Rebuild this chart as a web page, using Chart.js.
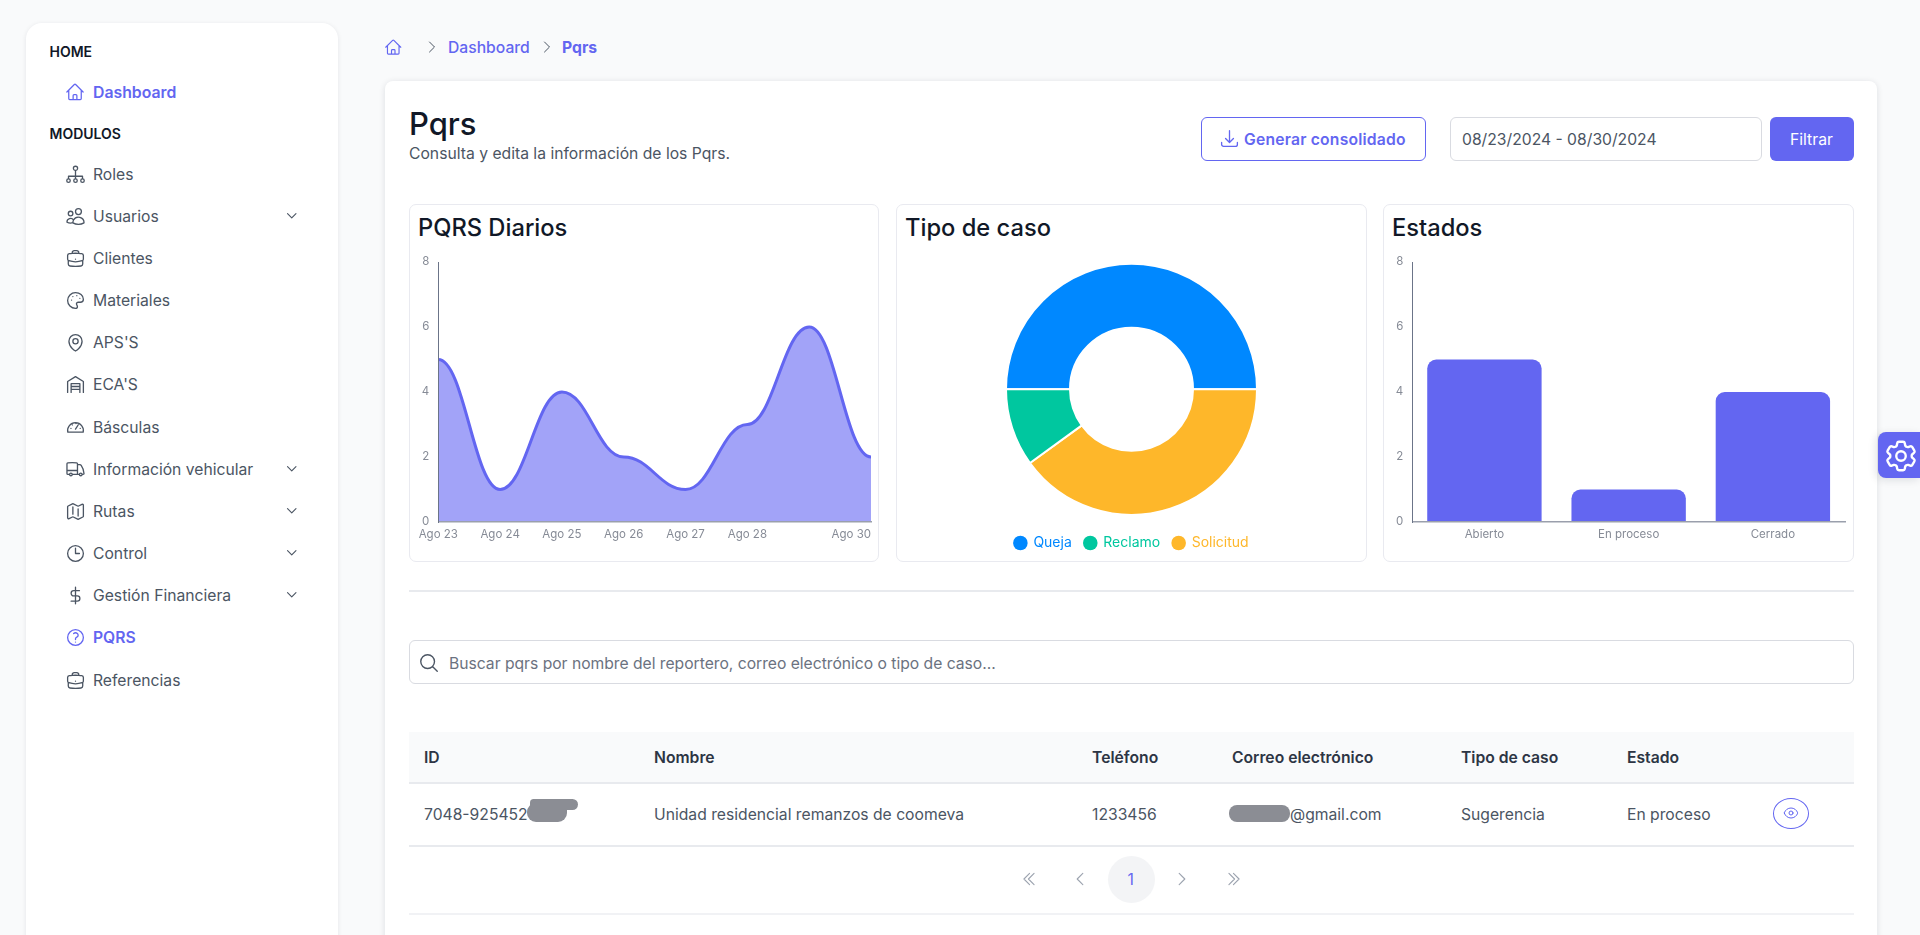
<!DOCTYPE html>
<html lang="es">
<head>
<meta charset="utf-8">
<title>Pqrs</title>
<script src="https://cdn.jsdelivr.net/npm/chart.js@4/dist/chart.umd.min.js"></script>
<style>
*{box-sizing:border-box}
html,body{margin:0;width:1920px;height:935px;overflow:hidden;background:#f9fafb;font-family:Inter,"Noto Sans",sans-serif;color:#4b5563}
.a{position:absolute;white-space:nowrap}
.t{position:absolute;white-space:nowrap;transform:translateY(calc(-50% + 1px));line-height:1.2}
svg.i{position:absolute;fill:none;stroke:currentColor;stroke-width:1.5;stroke-linecap:round;stroke-linejoin:round}
#side{left:26px;top:23px;width:312px;height:1000px;background:#fff;border-radius:16px;box-shadow:0 1px 5px rgba(17,24,39,.09)}
#main{left:385px;top:81px;width:1492px;height:1000px;background:#fff;border-radius:8px;box-shadow:0 1px 6px rgba(17,24,39,.12)}
.card{position:absolute;top:204px;height:358px;background:#fff;border:1.5px solid #e9eaf0;border-radius:7px}
.ct{font-size:23.7px;font-weight:500;color:#111827;top:227px}
canvas{position:absolute;display:block}
.hd{font-size:15.7px;font-weight:600;color:#2d3544;top:757px}
.rw{font-size:15.7px;color:#4b5563;top:814px}
.line{position:absolute;height:1.5px;background:#e8eaee}
</style>
</head>
<body>
<div id="root"></div>
<script>
// ---- Chart data ----
const dailyLabels = ['Ago 23','Ago 24','Ago 25','Ago 26','Ago 27','Ago 28','','Ago 30'];
const dailyValues = [5,1,4,2,1,3,6,2];
const caseLabels = ['Queja','Solicitud','Reclamo'];
const caseValues = [5,4,1];
const caseColors = ['#0088ff','#feb72a','#00c79f'];
const caseLegendOrder = ['Queja','Reclamo','Solicitud'];
const stateLabels = ['Abierto','En proceso','Cerrado'];
const stateValues = [5,1,4];
const yTicks = [0,2,4,6,8];

// ---- Icons ----
const P = {
 home:'M2.25 12l8.954-8.955c.44-.439 1.152-.439 1.591 0L21.75 12M4.5 9.75v10.125c0 .621.504 1.125 1.125 1.125H9.75v-4.875c0-.621.504-1.125 1.125-1.125h2.25c.621 0 1.125.504 1.125 1.125V21h4.125c.621 0 1.125-.504 1.125-1.125V9.75M8.25 21h8.25',
 down:'M19.5 8.25l-7.5 7.5-7.5-7.5',
 right:'M8.25 4.5l7.5 7.5-7.5 7.5',
 left:'M15.75 19.5L8.25 12l7.5-7.5',
 dr:'M5.25 4.5l7.5 7.5-7.5 7.5M11.25 4.5l7.5 7.5-7.5 7.5',
 dl:'M18.75 19.5L11.25 12l7.5-7.5M12.75 19.5L5.25 12l7.5-7.5',
 tray:'M3 16.5v2.25A2.25 2.25 0 005.25 21h13.5A2.25 2.25 0 0021 18.75V16.5M16.5 12L12 16.5m0 0L7.5 12m4.5 4.5V3',
 search:'M21 21l-5.197-5.197m0 0A7.5 7.5 0 105.196 5.196a7.5 7.5 0 0010.607 10.607z',
 eye:'M2.036 12.322a1.012 1.012 0 010-.639C3.423 7.51 7.36 4.5 12 4.5c4.638 0 8.573 3.007 9.963 7.178.07.207.07.431 0 .639C20.577 16.49 16.64 19.5 12 19.5c-4.638 0-8.573-3.007-9.963-7.178zM15 12a3 3 0 11-6 0 3 3 0 016 0z',
 cog:'M9.594 3.94c.09-.542.56-.94 1.11-.94h2.593c.55 0 1.02.398 1.11.94l.213 1.281c.063.374.313.686.645.87.074.04.147.083.22.127.324.196.72.257 1.075.124l1.217-.456a1.125 1.125 0 011.37.49l1.296 2.247a1.125 1.125 0 01-.26 1.431l-1.003.827c-.293.24-.438.613-.431.992a6.759 6.759 0 010 .255c-.007.378.138.75.43.99l1.005.828c.424.35.534.954.26 1.43l-1.298 2.247a1.125 1.125 0 01-1.369.491l-1.217-.456c-.355-.133-.75-.072-1.076.124a6.57 6.57 0 01-.22.128c-.331.183-.581.495-.644.869l-.213 1.28c-.09.543-.56.941-1.11.941h-2.594c-.55 0-1.02-.398-1.11-.94l-.213-1.281c-.062-.374-.312-.686-.644-.87a6.52 6.52 0 01-.22-.127c-.325-.196-.72-.257-1.076-.124l-1.217.456a1.125 1.125 0 01-1.369-.49l-1.297-2.247a1.125 1.125 0 01.26-1.431l1.004-.827c.292-.24.437-.613.43-.992a6.932 6.932 0 010-.255c.007-.378-.138-.75-.43-.99l-1.004-.828a1.125 1.125 0 01-.26-1.43l1.297-2.247a1.125 1.125 0 011.37-.491l1.216.456c.356.133.751.072 1.076-.124.072-.044.146-.087.22-.128.332-.183.582-.495.644-.869l.214-1.281zM15 12a3 3 0 11-6 0 3 3 0 016 0z',
 pin:'M15 10.5a3 3 0 11-6 0 3 3 0 016 0zM19.5 10.5c0 7.142-7.5 11.25-7.5 11.25S4.5 17.642 4.5 10.5a7.5 7.5 0 1115 0z',
 clock:'M12 6v6h4.5m4.5 0a9 9 0 11-18 0 9 9 0 0118 0z',
 help:'M9.879 7.519c1.171-1.025 3.071-1.025 4.242 0 1.172 1.025 1.172 2.687 0 3.712-.203.179-.43.326-.67.442-.745.361-1.45.999-1.45 1.827v.75M21 12a9 9 0 11-18 0 9 9 0 0118 0zm-9 5.25h.008v.008H12v-.008z',
 case:'M20.25 14.15v4.25c0 1.094-.787 2.036-1.872 2.18-2.087.277-4.216.42-6.378.42s-4.291-.143-6.378-.42c-1.085-.144-1.872-1.086-1.872-2.18v-4.25m16.5 0a2.18 2.18 0 00.75-1.661V8.706c0-1.081-.768-2.015-1.837-2.175a48.114 48.114 0 00-3.413-.387m4.5 8.006c-.194.165-.42.295-.673.38A23.978 23.978 0 0112 15.75c-2.648 0-5.195-.429-7.577-1.22a2.016 2.016 0 01-.673-.38m0 0A2.18 2.18 0 013 12.489V8.706c0-1.081.768-2.015 1.837-2.175a48.111 48.111 0 013.413-.387m7.5 0V5.25A2.25 2.25 0 0013.5 3h-3a2.25 2.25 0 00-2.25 2.25v.894m7.5 0a48.667 48.667 0 00-7.5 0M12 12.75h.008v.008H12v-.008z',
 map:'M9 6.75V15m6-6v8.25m.503 3.498l4.875-2.437c.381-.19.622-.58.622-1.006V4.82c0-.836-.88-1.38-1.628-1.006l-3.869 1.934c-.317.159-.69.159-1.006 0L9.503 3.252a1.125 1.125 0 00-1.006 0L3.622 5.689C3.24 5.88 3 6.27 3 6.695V19.18c0 .836.88 1.38 1.628 1.006l3.869-1.934c.317-.159.69-.159 1.006 0l4.994 2.497c.317.158.69.158 1.006 0z',
 truck:'M8.25 18.75a1.5 1.5 0 01-3 0m3 0a1.5 1.5 0 00-3 0m3 0h6m-9 0H3.375a1.125 1.125 0 01-1.125-1.125V14.25m17.25 4.5a1.5 1.5 0 01-3 0m3 0a1.5 1.5 0 00-3 0m3 0h1.125c.621 0 1.129-.504 1.09-1.124a17.902 17.902 0 00-3.213-9.193 2.056 2.056 0 00-1.58-.86H14.25M16.5 18.75h-2.25m0-11.177v-.958c0-.568-.422-1.048-.987-1.106a48.554 48.554 0 00-10.026 0 1.106 1.106 0 00-.987 1.106v7.635m12-6.677v6.677m0 4.5v-4.5m0 0h-12',
 dollar:'M12 2.5v19M16.5 6.5H10a3 3 0 000 6h4a3 3 0 010 6H7',
 users:'M15 19.128a9.38 9.38 0 002.625.372 9.337 9.337 0 004.121-.952 4.125 4.125 0 00-7.533-2.493M15 19.128v-.003c0-1.113-.285-2.16-.786-3.07M15 19.128v.106A12.318 12.318 0 018.624 21c-2.331 0-4.512-.645-6.374-1.766l-.001-.109a6.375 6.375 0 0111.964-3.07M12 6.375a3.375 3.375 0 11-6.75 0 3.375 3.375 0 016.75 0zm8.25 2.25a2.625 2.625 0 11-5.25 0 2.625 2.625 0 015.25 0z',
 roles:'M14.4 5a2.4 2.4 0 11-4.8 0 2.4 2.4 0 014.8 0zM6 19a2 2 0 11-4 0 2 2 0 014 0zM14 19a2 2 0 11-4 0 2 2 0 014 0zM22 19a2 2 0 11-4 0 2 2 0 014 0zM12 7.4V17M4 17v-3h16v3',
 palette:'M12 3a9 9 0 100 18c1.5 0 2.2-1 2.2-2 0-1.5-1.1-2-1.1-3.2 0-1 .8-1.8 2-1.8h2.4c2 0 3.5-1.3 3.5-3.5C21 6 17 3 12 3zM7.5 11.5h.01M9 7.5h.01M13.5 6.5h.01M17 9.5h.01',
 garage:'M3 21V8.5l9-5.5 9 5.5V21M7 21V11h10v10M7 14.3h10M7 17.6h10',
 gauge:'M3.2 18.5a9 9 0 1117.6 0zM12 15l3.2-5M6.8 14.2h.01M8.5 10.2h.01M12.5 8.6h.01M17.4 14.2h.01'
};
const icon=(n,x,y,s,c,extra='')=>`<svg class="i" viewBox="0 0 24 24" style="left:${x-s/2}px;top:${y-s/2}px;width:${s}px;height:${s}px;color:${c};${extra}"><path d="${P[n]}"/></svg>`;
const text=(s,x,y,st,cl='t')=>`<div class="${cl}" style="left:${x}px;top:${y}px;${st}">${s}</div>`;

// ---- Page ----
const A='#6366f1';
const nav=[['Roles','roles',0],['Usuarios','users',1],['Clientes','case',0],['Materiales','palette',0],["APS'S",'pin',0],["ECA'S",'garage',0],['Básculas','gauge',0],['Información vehicular','truck',1],['Rutas','map',1],['Control','clock',1],['Gestión Financiera','dollar',1],['PQRS','help',0],['Referencias','case',0]];
const navY=[174,216,258,300,342,384,426.5,468.5,511,553,595,637,680];
let h='<div class="a" id="side"></div><div class="a" id="main"></div>';
h+=text('HOME',49.5,51,'font-size:14px;font-weight:600;color:#111827');
h+=icon('home',75,92,20,A)+text('Dashboard',93,92,`font-size:15.8px;font-weight:600;color:${A}`);
h+=text('MODULOS',49.5,133,'font-size:14px;font-weight:600;color:#111827');
nav.forEach((n,i)=>{const act=n[0]==='PQRS',c=act?A:'#4b5563';
 h+=icon(n[1],75,navY[i],21,c,n[1]==='users'?'transform:scaleX(-1);':'');
 h+=text(n[0],93,navY[i],`font-size:15.7px;color:${c};${act?'font-weight:600;':''}`);
 if(n[2])h+=icon('down',292,navY[i],13.5,'#4b5563','stroke-width:2;');});
// breadcrumb
h+=icon('home',393,47,18.5,A)+icon('right',432,46.5,16,'#4b5563')+text('Dashboard',448,47,`font-size:15.7px;font-weight:500;color:${A}`)+icon('right',547,46.5,16,'#4b5563')+text('Pqrs',562,47,`font-size:15.7px;font-weight:700;color:${A}`);
// heading
h+=text('Pqrs',409,123,'font-size:31px;font-weight:500;color:#111827');
h+=text('Consulta y edita la información de los Pqrs.',409,153,'font-size:15.7px;color:#4b5563');
// toolbar
h+=`<div class="a" style="left:1200.5px;top:117px;width:225px;height:44px;border:1.5px solid ${A};border-radius:6px;background:#fff"></div>`;
h+=icon('tray',1229,138,21,A)+text('Generar consolidado',1244,139,`font-size:15.7px;font-weight:600;color:${A};letter-spacing:.2px`);
h+='<div class="a" style="left:1449.5px;top:117px;width:312px;height:44px;border:1.5px solid #d9dbe1;border-radius:6px;background:#fff"></div>';
h+=text('08/23/2024 - 08/30/2024',1462,139,'font-size:15.7px;color:#4b5563');
h+=`<div class="a" style="left:1770px;top:117px;width:84px;height:44px;background:${A};border-radius:6px"></div>`;
h+=text('Filtrar',1790,139,'font-size:15.7px;color:#fff');
// cards
h+='<div class="card" style="left:409px;width:470px"></div><div class="card" style="left:896px;width:471px"></div><div class="card" style="left:1383px;width:471px"></div>';
h+=text('PQRS Diarios',418,227,'',"t ct")+text('Tipo de caso',905,227,'',"t ct")+text('Estados',1392,227,'',"t ct");
h+='<canvas id="c1" style="left:410px;top:240px;width:468px;height:310px"></canvas>';
h+='<canvas id="c2" style="left:897px;top:255px;width:469px;height:305px"></canvas>';
h+='<canvas id="c3" style="left:1384px;top:240px;width:469px;height:310px"></canvas>';
h+='<div class="line" style="left:409px;top:590px;width:1445px"></div>';
// search
h+='<div class="a" style="left:409px;top:640px;width:1445px;height:44px;border:1.5px solid #d9dbe1;border-radius:6px;background:#fff"></div>';
h+=icon('search',428.5,662.5,22,'#4b5563');
h+=text('Buscar pqrs por nombre del reportero, correo electrónico o tipo de caso...',449,663,'font-size:15.7px;color:#6b7280;letter-spacing:-.02px');
// table
h+='<div class="a" style="left:409px;top:732px;width:1445px;height:50px;background:#f9fafb"></div><div class="line" style="left:409px;top:782px;width:1445px"></div><div class="line" style="left:409px;top:845px;width:1445px"></div><div class="line" style="left:409px;top:913px;width:1445px;background:#f1f2f5"></div>';
[['ID',424],['Nombre',654],['Teléfono',1092],['Correo electrónico',1232],['Tipo de caso',1461],['Estado',1627]].forEach(c=>h+=text(c[0],c[1],757,'',"t hd"));
[['7048-925452',424],['Unidad residencial remanzos de coomeva',654],['1233456',1092],['@gmail.com',1290],['Sugerencia',1461],['En proceso',1627]].forEach(c=>h+=text(c[0],c[1],814,'',"t rw"));
h+='<div class="a" style="left:527px;top:803px;width:40px;height:19px;background:#8b8d94;border-radius:9px 3px 9px 9px"></div><div class="a" style="left:530px;top:799px;width:48px;height:11px;background:#8b8d94;border-radius:4px 6px 6px 2px"></div>';
h+='<div class="a" style="left:1229px;top:805px;width:61px;height:17px;background:#8b8d94;border-radius:8px"></div>';
h+=`<div class="a" style="left:1773px;top:798px;width:36px;height:31px;border:1.2px solid ${A};border-radius:50%"></div>`+icon('eye',1791,813,16,A);
// pagination
h+=icon('dl',1029,879,18,'#9ca3af')+icon('left',1080,879,18,'#9ca3af');
h+='<div class="a" style="left:1108px;top:856px;width:47px;height:47px;border-radius:50%;background:#f3f4f6"></div>';
h+=text('1',1127.5,879,`font-size:15.7px;color:${A}`);
h+=icon('right',1182,879,18,'#9ca3af')+icon('dr',1233.5,879,18,'#9ca3af');
// settings tab
h+=`<div class="a" style="left:1878px;top:432px;width:42px;height:46px;background:${A};border-radius:8px 0 0 8px;box-shadow:-2px 2px 8px rgba(17,24,39,.12)"></div>`+icon('cog',1901,456,38,'#fff');
document.getElementById('root').innerHTML=h;

// ---- Charts ----
Chart.defaults.font.family='Inter, "Noto Sans", sans-serif';
Chart.defaults.animation=false;
const tickColor='#868b96';
const yScale={min:0,max:8,afterBuildTicks:s=>{s.ticks=yTicks.map(v=>({value:v}));},
  afterFit:s=>{s.width=28.3},
  grid:{display:false,drawTicks:false},
  border:{display:true,color:'#6b7488',width:1,z:1},
  ticks:{color:tickColor,padding:9,font:{size:11.5}}};
const xBase={afterFit:s=>{s.height=28;s.paddingLeft=0;s.paddingRight=0;},grid:{display:false,drawTicks:false},
  border:{display:true,color:'#9a9fac',width:1.5,z:1},
  ticks:{color:tickColor,padding:6,font:{size:11.5},autoSkip:false,maxRotation:0,minRotation:0}};

// Flat-tangent spline (horizontal handles at every point) and right-aligned last tick label.
const flatSpline={id:'flatSpline',
  afterDatasetsUpdate(chart){
    const m=chart.getDatasetMeta(0),pts=m.data;
    pts.forEach((p,i)=>{
      const prev=pts[i-1],next=pts[i+1];
      const k=.42;
      p.cp1x=prev?p.x-(p.x-prev.x)*k:p.x; p.cp1y=p.y;
      p.cp2x=next?p.x+(next.x-p.x)*k:p.x; p.cp2y=p.y;
    });
    m.dataset._pointsUpdated=true;
  },
  beforeDatasetsDraw(chart){chart.getDatasetMeta(0).dataset._pointsUpdated=true;},
  beforeDraw(chart){
    const items=chart.scales.x.getLabelItems();
    const last=items[items.length-1];
    if(last) last.options.textAlign='right';
  }};

new Chart(document.getElementById('c1'),{type:'line',
  data:{labels:dailyLabels,datasets:[{label:'PQRS Diarios',data:dailyValues,borderColor:A,borderWidth:3,backgroundColor:'#a2a3f8',fill:'origin',tension:.4,pointRadius:0}]},
  options:{responsive:false,maintainAspectRatio:false,
    layout:{autoPadding:false,padding:{top:22,right:7,left:0,bottom:0}},
    plugins:{legend:{display:false},tooltip:{enabled:false}},
    scales:{x:{...xBase,offset:false},y:yScale}},
  plugins:[flatSpline]});

new Chart(document.getElementById('c2'),{type:'doughnut',
  data:{labels:caseLabels,datasets:[{data:caseValues,backgroundColor:caseColors,borderColor:'#fff',borderWidth:2,radius:125.5,cutout:'49%',rotation:270}]},
  options:{responsive:false,maintainAspectRatio:false,
    layout:{padding:0},
    plugins:{tooltip:{enabled:false},
      legend:{position:'bottom',labels:{usePointStyle:true,boxWidth:12,boxHeight:10.3,padding:12.5,font:{size:14},
        generateLabels(chart){
          const ds=chart.data.datasets[0];
          return caseLegendOrder.map(name=>{const i=chart.data.labels.indexOf(name);
            return {text:name,fillStyle:ds.backgroundColor[i],strokeStyle:ds.backgroundColor[i],fontColor:ds.backgroundColor[i],lineWidth:0,pointStyle:'circle',hidden:false,index:i};});
        }}}}}});

new Chart(document.getElementById('c3'),{type:'bar',
  data:{labels:stateLabels,datasets:[{label:'Estados',data:stateValues,backgroundColor:A,borderRadius:9,borderSkipped:'bottom',barPercentage:.793,categoryPercentage:1}]},
  options:{responsive:false,maintainAspectRatio:false,
    layout:{autoPadding:false,padding:{top:22,right:8,left:0,bottom:0}},
    plugins:{legend:{display:false},tooltip:{enabled:false}},
    scales:{x:xBase,y:yScale}}});
</script>
</body>
</html>
